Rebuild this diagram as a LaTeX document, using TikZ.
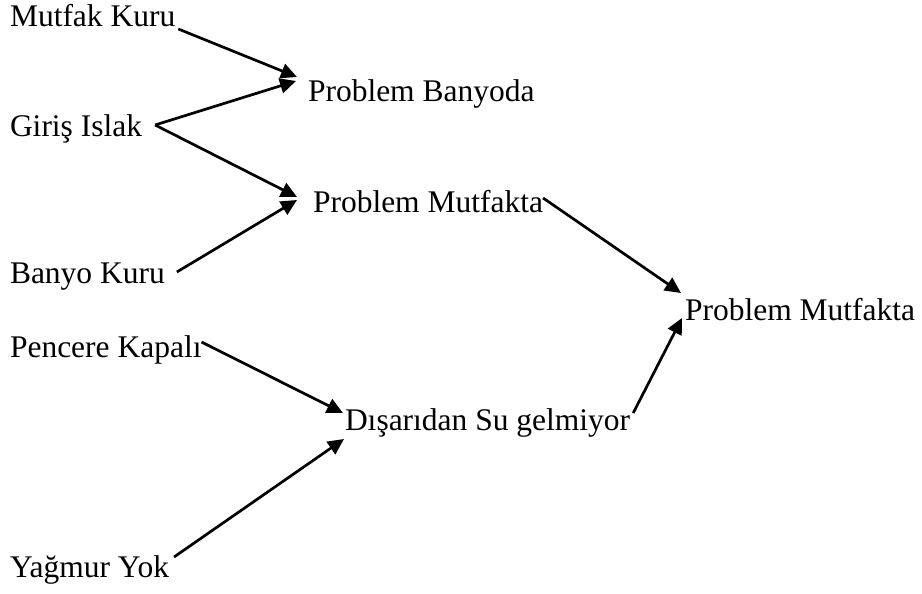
\documentclass[tikz,border=0pt]{standalone}
\usepackage{fontspec}
\setmainfont{Liberation Serif}
\usetikzlibrary{arrows.meta}
\tikzset{
  lbl/.style={anchor=base west, inner sep=0pt, outer sep=0pt,
    font=\fontsize{31.5}{38}\selectfont},
  arr/.style={line width=2.7pt, -{Triangle[length=16pt,width=15pt]}}
}
\begin{document}
\begin{tikzpicture}[x=1pt, y=-1pt]
\useasboundingbox[fill=white] (0,0) rectangle (922,594);

% statements on the left
\node[lbl] (mk) at (10,27)  {Mutfak Kuru};
\node[lbl] (gi) at (10,136) {Giriş Islak};
\node[lbl] (bk) at (10,283) {Banyo Kuru};
\node[lbl] (pk) at (10,357) {Pencere Kapalı};
\node[lbl] (yy) at (10,577) {Yağmur Yok};

% conclusions
\node[lbl] (pb)  at (308,102) {Problem Banyoda};
\node[lbl] (pm1) at (313,212) {Problem Mutfakta};
\node[lbl] (ds)  at (345,430) {Dışarıdan Su gelmiyor};
\node[lbl] (pm2) at (685,320) {Problem Mutfakta};

% inferences
\draw[arr] ([shift={(3,2)}]mk.base east)    -- ([shift={(-11,-25)}]pb.base west);
\draw[arr] ([shift={(13,-11)}]gi.base east) -- ([shift={(-12,-21)}]pb.base west);
\draw[arr] ([shift={(13,-11)}]gi.base east) -- ([shift={(-16,-15)}]pm1.base west);
\draw[arr] ([shift={(12,-11)}]bk.base east) -- ([shift={(-16,-12)}]pm1.base west);
\draw[arr] ([shift={(0,-14)}]pm1.base east) -- ([shift={(-4,-27)}]pm2.base west);
\draw[arr] ([shift={(3,-17)}]ds.base east)  -- ([shift={(-3,-2)}]pm2.base west);
\draw[arr] ([shift={(0,-15)}]pk.base east)  -- ([shift={(-2,-17)}]ds.base west);
\draw[arr] ([shift={(5,-20)}]yy.base east)  -- ([shift={(-1,9)}]ds.base west);
\end{tikzpicture}
\end{document}
